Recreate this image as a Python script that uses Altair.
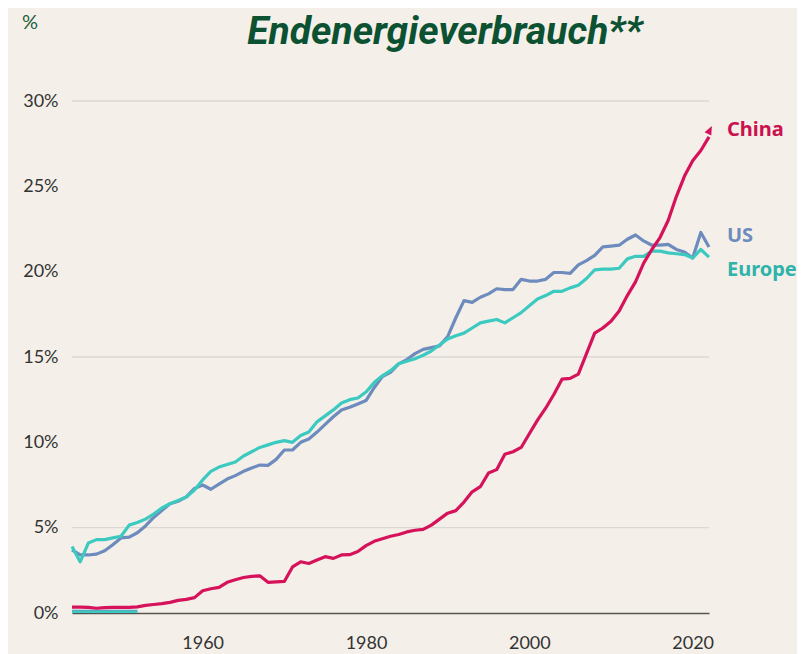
import altair as alt
import pandas as pd

years = list(range(1944, 2023))
china = [0.35, 0.35, 0.33, 0.28, 0.32, 0.33, 0.33, 0.33, 0.36, 0.45,
         0.50, 0.55, 0.62, 0.74, 0.80, 0.90, 1.30, 1.42, 1.50, 1.80,
         1.95, 2.08, 2.15, 2.18, 1.80, 1.82, 1.85, 2.70, 3.00, 2.90,
         3.10, 3.30, 3.20, 3.40, 3.42, 3.60, 3.95, 4.20, 4.35, 4.50,
         4.60, 4.75, 4.85, 4.90, 5.15, 5.50, 5.85, 6.00, 6.50, 7.10,
         7.40, 8.20, 8.40, 9.30, 9.45, 9.70, 10.5, 11.3, 12.0, 12.8,
         13.7, 13.75, 14.0, 15.2, 16.4, 16.7, 17.1, 17.7, 18.6, 19.4,
         20.5, 21.3, 22.0, 23.0, 24.4, 25.6, 26.5, 27.1, 27.9]
us = [3.7, 3.4, 3.4, 3.45, 3.65, 4.0, 4.4, 4.45, 4.7, 5.1,
      5.6, 6.0, 6.4, 6.55, 6.8, 7.3, 7.5, 7.25, 7.55, 7.85,
      8.05, 8.3, 8.5, 8.67, 8.65, 9.0, 9.55, 9.55, 10.0, 10.2,
      10.6, 11.05, 11.5, 11.9, 12.05, 12.25, 12.45, 13.2, 13.85, 14.1,
      14.6, 14.85, 15.2, 15.45, 15.55, 15.65, 16.2, 17.3, 18.3, 18.2,
      18.5, 18.7, 19.0, 18.95, 18.95, 19.55, 19.45, 19.45, 19.55, 19.95,
      19.95, 19.9, 20.4, 20.65, 20.95, 21.45, 21.5, 21.55, 21.9, 22.15,
      21.8, 21.55, 21.55, 21.6, 21.3, 21.15, 20.8, 22.3, 21.45]
europe = [3.9, 3.0, 4.1, 4.3, 4.3, 4.4, 4.5, 5.15, 5.3, 5.5,
          5.8, 6.15, 6.4, 6.6, 6.8, 7.2, 7.8, 8.3, 8.55, 8.7,
          8.85, 9.2, 9.45, 9.7, 9.85, 10.0, 10.1, 10.0, 10.4, 10.6,
          11.2, 11.55, 11.9, 12.3, 12.5, 12.6, 12.95, 13.5, 13.9, 14.2,
          14.6, 14.75, 14.9, 15.1, 15.35, 15.7, 16.05, 16.25, 16.4, 16.7,
          17.0, 17.1, 17.2, 17.0, 17.3, 17.6, 18.0, 18.4, 18.6, 18.85,
          18.85, 19.05, 19.2, 19.6, 20.1, 20.15, 20.15, 20.2, 20.75, 20.9,
          20.9, 21.2, 21.2, 21.1, 21.05, 21.0, 20.8, 21.3, 20.85]

# short stubs near zero at the start (as in the original)
stub_years = list(range(1944, 1953))
stub_us = [0.12] * 9
stub_europe = [0.08] * 9

series_names = ["US", "Europe", "China"]
series_colors = ["#6e8bbd", "#3ccac0", "#d5125a"]
label_colors = ["#6e8bbd", "#2fb3aa", "#cc1150"]
label_year = [2024.2, 2024.2, 2024.2]
label_value = [22.1, 20.1, 28.3]

arrow_year = [2022]
arrow_value = [28.2]

x_ticks = [1960, 1980, 2000, 2020]
y_ticks = [0, 5, 10, 15, 20, 25, 30]
grid_values = [5, 15, 30]

title_text = "Endenergieverbrauch**"
unit_text = "%"

rows = []
for name, vals in zip(series_names, [us, europe, china]):
    for y, v in zip(years, vals):
        rows.append({"year": y, "value": v, "series": name})
df = pd.DataFrame(rows)

stub_rows = []
for name, vals in zip(["US", "Europe"], [stub_us, stub_europe]):
    for y, v in zip(stub_years, vals):
        stub_rows.append({"year": y, "value": v, "series": name})
stub_df = pd.DataFrame(stub_rows)

lab_df = pd.DataFrame({"series": series_names, "year": label_year,
                       "value": label_value})

xscale = alt.Scale(domain=[1944, 2022], nice=False, zero=False)
yscale = alt.Scale(domain=[0, 30], nice=False)

x_axis = alt.Axis(values=x_ticks, format="d", title=None, grid=False,
                  ticks=False, domain=True, domainColor="#555555",
                  domainWidth=1.5, labelFont="Lato", labelFontSize=18,
                  labelColor="#333333", labelPadding=21)
y_axis = alt.Axis(values=y_ticks, labelExpr="datum.value + '%'",
                  title=None, grid=False, ticks=False, domain=False,
                  labelFont="Lato", labelFontSize=18,
                  labelColor="#333333", labelPadding=14)

base = alt.Chart(df)

grid = alt.Chart(pd.DataFrame({"g": grid_values})).mark_rule(
    color="#d9d8d4", strokeWidth=1.3
).encode(y=alt.Y("g:Q", scale=yscale, axis=y_axis, title=None))

axes = base.mark_line(opacity=0).encode(
    x=alt.X("year:Q", scale=xscale, axis=x_axis, title=None),
    y=alt.Y("value:Q", scale=yscale, axis=y_axis, title=None),
    detail="series:N",
)

layers = [grid, axes]

for name, col in zip(["US", "Europe"], ["#6e8bbd", "#3ccac0"]):
    layers.append(
        alt.Chart(stub_df).transform_filter(alt.datum.series == name)
        .mark_line(color=col, strokeWidth=2.5)
        .encode(x=alt.X("year:Q", scale=xscale, axis=x_axis, title=None),
                y=alt.Y("value:Q", scale=yscale, axis=y_axis, title=None))
    )

for name, col in zip(series_names, series_colors):
    layers.append(
        base.transform_filter(alt.datum.series == name)
        .mark_line(color=col, strokeWidth=3.2, strokeJoin="round")
        .encode(x=alt.X("year:Q", scale=xscale, axis=x_axis, title=None),
                y=alt.Y("value:Q", scale=yscale, axis=y_axis, title=None))
    )

arrow = alt.Chart(pd.DataFrame({"year": arrow_year, "value": arrow_value})).mark_point(
    shape="M0,-1.3L0.75,0.5L-0.75,0.5Z", filled=True, size=100, angle=26,
    color="#d5125a", opacity=1
).encode(x=alt.X("year:Q", scale=xscale, axis=x_axis, title=None),
         y=alt.Y("value:Q", scale=yscale, axis=y_axis, title=None))
layers.append(arrow)

labels = alt.Chart(lab_df).mark_text(
    align="left", baseline="middle", font="Noto Sans", fontWeight="bold",
    fontSize=20
).encode(
    x=alt.X("year:Q", scale=xscale, axis=x_axis, title=None),
    y=alt.Y("value:Q", scale=yscale, axis=y_axis, title=None),
    text="series:N",
    color=alt.Color("series:N", scale=alt.Scale(domain=series_names,
                                                range=label_colors), legend=None),
)
layers.append(labels)

title = alt.Chart(pd.DataFrame({"t": [title_text]})).mark_text(
    align="center", baseline="alphabetic", font="Roboto",
    fontWeight="bold", fontStyle="italic", fontSize=39, color="#0c5232"
).encode(x=alt.value(373), y=alt.value(-57), text="t:N")
unit = alt.Chart(pd.DataFrame({"t": [unit_text]})).mark_text(
    align="center", baseline="middle", font="Lato", fontSize=20,
    color="#1d5e3e"
).encode(x=alt.value(-42), y=alt.value(-78), text="t:N")
layers += [title, unit]

chart = alt.layer(*layers).properties(
    width=637, height=512,
    autosize=alt.AutoSizeParams(type="none"),
    padding={"left": 64, "top": 93, "right": 88, "bottom": 41},
    background="#f4f0e9",
).configure_view(stroke=None)

chart.save("out.html", embed_options={"renderer": "svg", "actions": False})
